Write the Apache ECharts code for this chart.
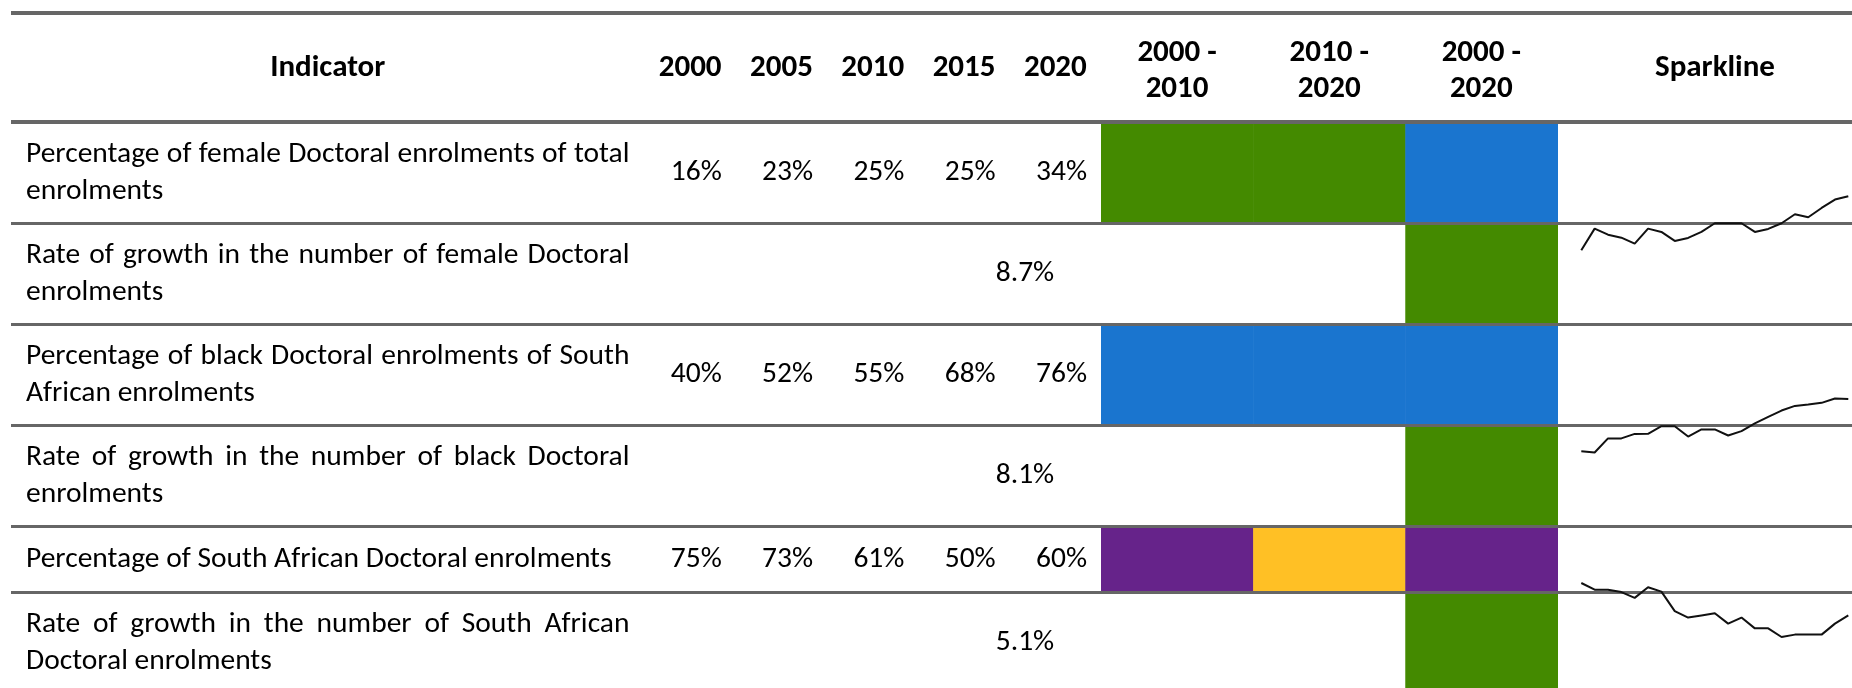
<!DOCTYPE html>
<html>
<head>
<meta charset="utf-8">
<script src="https://cdn.jsdelivr.net/npm/echarts@6/dist/echarts.min.js"></script>
<style>
html,body{margin:0;padding:0;background:#fff;}
#chart{width:1852px;height:688px;}
</style>
</head>
<body>
<div id="chart"></div>
<script>
// ---------------- DATA ----------------
const INDICATORS = [
  'Percentage of female Doctoral enrolments of total\nenrolments',
  'Rate of growth in the number of female Doctoral\nenrolments',
  'Percentage of black Doctoral enrolments of South\nAfrican enrolments',
  'Rate of growth in the number of black Doctoral\nenrolments',
  'Percentage of South African Doctoral enrolments',
  'Rate of growth in the number of South African\nDoctoral enrolments'
];
const YEARS = ['2000', '2005', '2010', '2015', '2020'];
const PERIODS = ['2000 -\n2010', '2010 -\n2020', '2000 -\n2020'];
const YEAR_VALUES = [
  ['16%', '23%', '25%', '25%', '34%'],
  null,
  ['40%', '52%', '55%', '68%', '76%'],
  null,
  ['75%', '73%', '61%', '50%', '60%'],
  null
];
const GROWTH = [null, '8.7%', null, '8.1%', null, '5.1%'];
const CHANGE = [
  ['green', 'green', 'blue'],
  [null, null, 'green'],
  ['blue', 'blue', 'blue'],
  [null, null, 'green'],
  ['purple', 'amber', 'purple'],
  [null, null, 'green']
];
const SPARK_YEARS = ['2000','2001','2002','2003','2004','2005','2006','2007','2008','2009','2010',
                     '2011','2012','2013','2014','2015','2016','2017','2018','2019','2020'];
const SPARK_FEMALE = [16, 23.2, 21.2, 20.2, 18.2, 23.2, 22.1, 19.1, 20.1, 22.1, 25, 25, 25, 22.1, 23.1, 25, 28, 27, 30.1, 32.9, 34];
const SPARK_BLACK = [40, 39.1, 48.8, 48.8, 51.9, 52, 57.2, 57.2, 50.1, 55, 55, 50.8, 53.8, 59.1, 63.7, 68, 71.2, 72.2, 73.3, 76.3, 76];
const SPARK_SA = [75, 71.9, 71.9, 70.8, 68.1, 73, 71, 62, 59, 60, 61, 56.2, 59, 54, 54, 50, 51.1, 51.1, 51.1, 56.2, 60];
const SPARKS = [SPARK_FEMALE, SPARK_BLACK, SPARK_SA];

// ---------------- STYLE / LAYOUT ----------------
const COLORS = { green: '#448A00', blue: '#1A75CF', purple: '#66238A', amber: '#FFC025' };
const FONT = "Carlito, Lato, 'Open Sans', sans-serif";
const FS = 29.5, HFS = 31, LINE_H = 37;
const BODY_TOP = 122;
const ROW_H = [101.5, 101, 101, 101, 66, 101];
const ROW_START = [];
ROW_H.reduce((acc, h, i) => { ROW_START[i] = acc; return acc + h; }, 0);
const TOTAL = ROW_H.reduce((a, b) => a + b, 0);
const PAD = 15;
const LINE_LEFT = 11, LINE_COLOR = '#666666';

const measureCtx = document.createElement('canvas').getContext('2d');
function textW(s) { measureCtx.font = FS + 'px ' + FONT; return measureCtx.measureText(s).width; }
function txt(s, x, y, align, weight) {
  return { type: 'text', x: x, y: y,
    style: { text: s, fill: '#000', font: (weight || 'normal') + ' ' + FS + 'px ' + FONT,
      align: align || 'left', verticalAlign: 'middle', textAlign: align || 'left', textVerticalAlign: 'middle' } };
}

const axisOff = { show: false };
function headerAxis(grid, data, margin) {
  return { type: 'category', gridIndex: grid, data: data, position: 'top',
    axisLine: axisOff, axisTick: axisOff, splitLine: axisOff,
    axisLabel: { show: true, interval: 0, margin: margin, verticalAlign: 'middle', color: '#000',
      fontFamily: FONT, fontSize: HFS, fontWeight: 'bold', lineHeight: 36 } };
}
function bodyY(grid) {
  return { type: 'value', gridIndex: grid, inverse: true, min: 0, max: TOTAL, show: false };
}

const grids = [
  { left: LINE_LEFT, top: BODY_TOP, width: 633.5, height: TOTAL },   // 0 indicator
  { left: 644.5, top: BODY_TOP, width: 456.5, height: TOTAL },       // 1 years
  { left: 1101, top: BODY_TOP, width: 456.4, height: TOTAL },        // 2 change
  { left: 644.5, top: BODY_TOP, width: 760.9, height: TOTAL },       // 3 growth span
  { left: 1557, top: BODY_TOP, width: 316, height: 10 }              // 4 sparkline header
];
const SPK_H = 54;
[0, 1, 2].forEach(k => {
  const center = BODY_TOP + ROW_START[2 * k] + (ROW_H[2 * k] + ROW_H[2 * k + 1]) / 2;
  grids.push({ left: 1581.3, width: 267, top: center - SPK_H / 2, height: SPK_H });
});
grids.forEach(g => { g.outerBoundsMode = 'none'; g.containLabel = false; });

const xAxes = [
  headerAxis(0, ['Indicator'], BODY_TOP - 68.5),
  headerAxis(1, YEARS, BODY_TOP - 68.5),
  headerAxis(2, PERIODS, BODY_TOP - 70.8),
  { type: 'category', gridIndex: 3, data: ['growth'], show: false },
  headerAxis(4, ['Sparkline'], BODY_TOP - 68.5)
];
const yAxes = [bodyY(0), bodyY(1), bodyY(2), bodyY(3), { type: 'value', gridIndex: 4, show: false }];
[0, 1, 2].forEach(k => {
  xAxes.push({ type: 'category', gridIndex: 5 + k, data: SPARK_YEARS, boundaryGap: false, show: false });
  yAxes.push({ type: 'value', gridIndex: 5 + k, min: v => v.min, max: v => v.max, scale: true, show: false });
});

// data for custom series
const indData = INDICATORS.map((s, r) => [0, r]);
const yearData = [], yearText = [];
YEAR_VALUES.forEach((row, r) => { if (row) row.forEach((v, c) => { yearData.push([c, r]); yearText.push(v); }); });
const growthData = [], growthText = [];
GROWTH.forEach((v, r) => { if (v) { growthData.push([0, r]); growthText.push(v); } });
const changeData = [], changeColor = [];
CHANGE.forEach((row, r) => row.forEach((v, c) => { if (v) { changeData.push([c, r]); changeColor.push(COLORS[v]); } }));

function rowCenter(api, r) { return api.coord([0, ROW_START[r] + ROW_H[r] / 2])[1]; }

const series = [
  { type: 'custom', xAxisIndex: 2, yAxisIndex: 2, data: changeData, silent: true, z: 1,
    renderItem(params, api) {
      const c = api.value(0), r = api.value(1);
      const bw = api.size([1, 0])[0];
      const cx = api.coord([c, 0])[0];
      const y0 = api.coord([c, ROW_START[r]])[1];
      const y1 = api.coord([c, ROW_START[r] + ROW_H[r]])[1];
      return { type: 'rect', shape: { x: cx - bw / 2, y: y0, width: bw + 0.6, height: y1 - y0 },
        style: { fill: changeColor[params.dataIndex] } };
    } },
  { type: 'custom', xAxisIndex: 0, yAxisIndex: 0, data: indData, silent: true,
    renderItem(params, api) {
      const r = api.value(1);
      const bw = api.size([1, 0])[0];
      const x0 = api.coord([0, 0])[0] - bw / 2 + PAD;
      const avail = bw - 2 * PAD;
      const yc = rowCenter(api, r);
      const lines = INDICATORS[r].split('\n');
      const children = [];
      lines.forEach((ln, li) => {
        const y = yc + (li - (lines.length - 1) / 2) * LINE_H;
        const words = ln.split(' ');
        if (li === lines.length - 1 || words.length < 2) { children.push(txt(ln, x0, y)); return; }
        const ws = words.map(textW);
        const tot = ws.reduce((a, b) => a + b, 0);
        const gap = (avail - tot) / (words.length - 1);
        let x = x0;
        words.forEach((w, i) => { children.push(txt(w, x, y)); x += ws[i] + gap; });
      });
      return { type: 'group', children };
    } },
  { type: 'custom', xAxisIndex: 1, yAxisIndex: 1, data: yearData, silent: true,
    renderItem(params, api) {
      const c = api.value(0), r = api.value(1);
      const bw = api.size([1, 0])[0];
      const x = api.coord([c, 0])[0] + bw / 2 - 14;
      return txt(yearText[params.dataIndex], x, rowCenter(api, r), 'right');
    } },
  { type: 'custom', xAxisIndex: 3, yAxisIndex: 3, data: growthData, silent: true,
    renderItem(params, api) {
      const r = api.value(1);
      return txt(growthText[params.dataIndex], api.coord([0, 0])[0], rowCenter(api, r), 'center');
    } }
];
SPARKS.forEach((d, k) => {
  series.push({ type: 'line', xAxisIndex: 5 + k, yAxisIndex: 5 + k, data: d, symbol: 'none',
    silent: true, clip: false, z: 200, zlevel: 1, lineStyle: { color: '#111', width: 2 } });
});

// table rules
const ruleDefs = [{ y: 13, w: 4 }, { y: BODY_TOP, w: 4 }];
for (let i = 1; i < ROW_H.length; i++) ruleDefs.push({ y: BODY_TOP + ROW_START[i], w: 3 });
const graphic = ruleDefs.map(l => ({ type: 'rect', z: 100, silent: true,
  shape: { x: LINE_LEFT, y: l.y - l.w / 2, width: 1852 - LINE_LEFT, height: l.w },
  style: { fill: LINE_COLOR } }));

const chart = echarts.init(document.getElementById('chart'), null, { renderer: 'canvas' });
chart.setOption({
  animation: false,
  backgroundColor: '#fff',
  grid: grids,
  xAxis: xAxes,
  yAxis: yAxes,
  series: series,
  graphic: graphic
});
</script>
</body>
</html>
